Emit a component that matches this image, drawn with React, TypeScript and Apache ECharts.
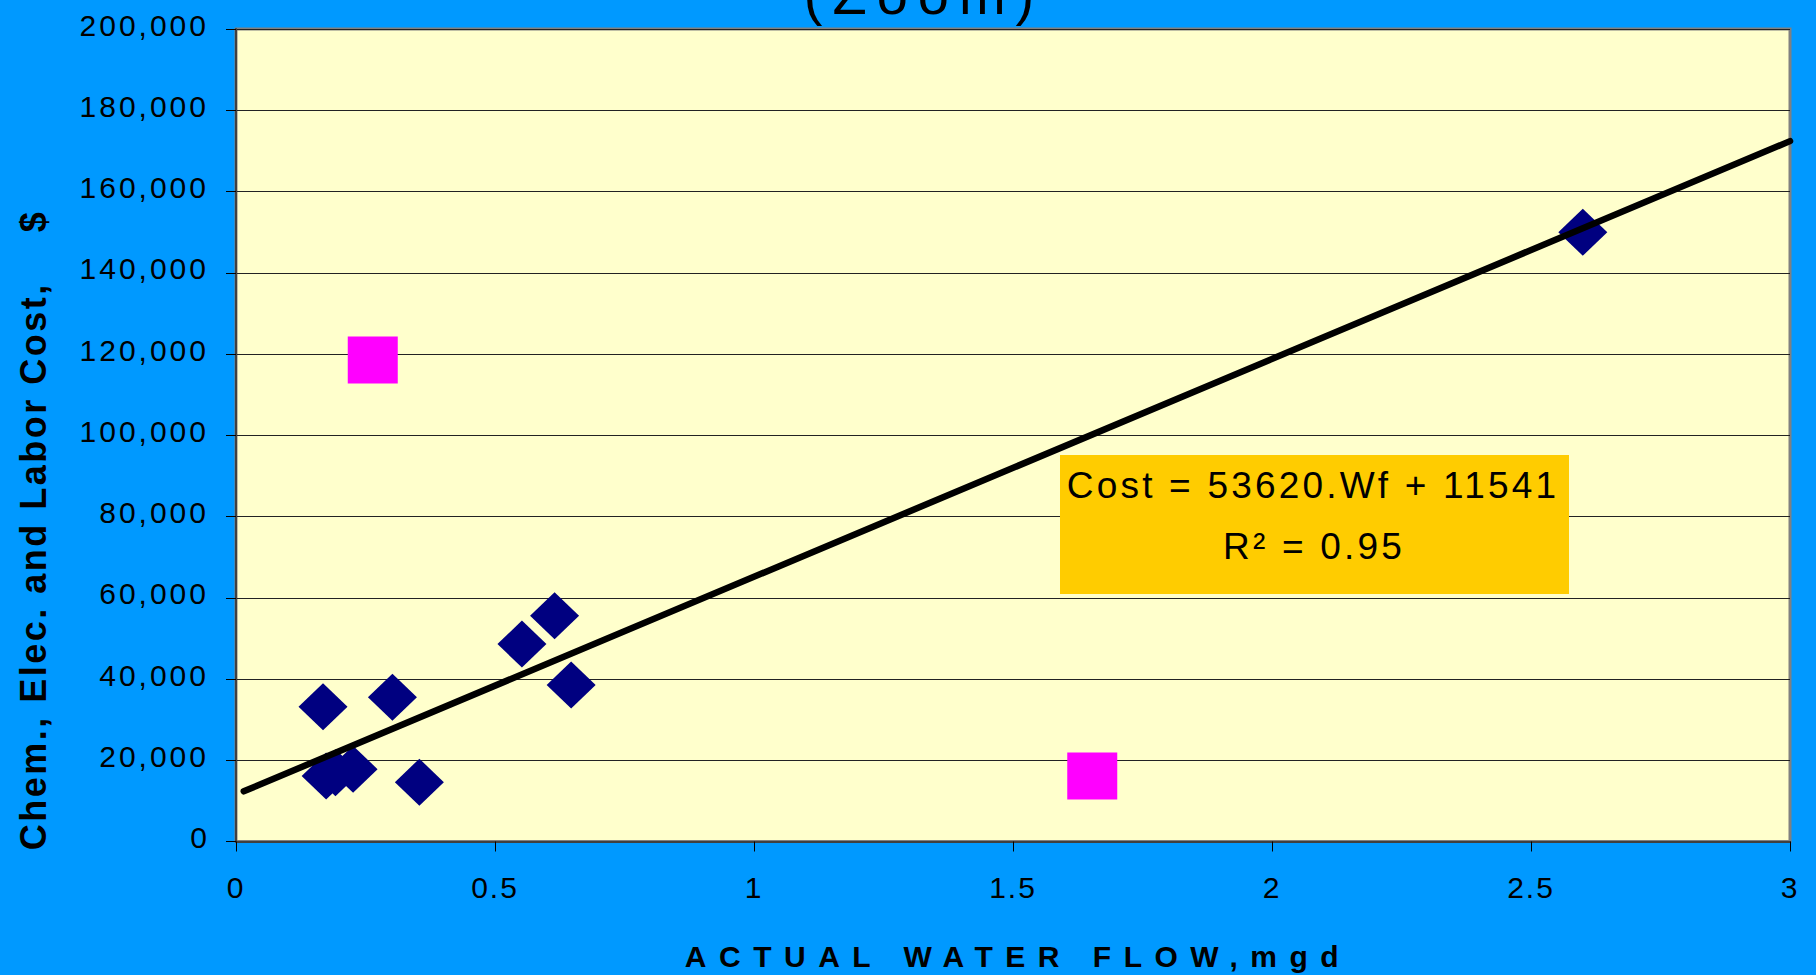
import React, { useEffect, useRef } from 'react';
import * as echarts from 'echarts';

const FONT = '"Liberation Sans", Arial, Helvetica, sans-serif';

const TITLE_TEXT = '(Zoom)';
const X_AXIS_TITLE = 'ACTUAL WATER FLOW,mgd';
const Y_AXIS_TITLE = 'Chem., Elec. and Labor Cost,    $';
const EQUATION_LINE1 = 'Cost = 53620.Wf + 11541';
const EQUATION_LINE2 = 'R\u00B2 = 0.95';

const X_TICKS = [0, 0.5, 1, 1.5, 2, 2.5, 3];
const Y_TICKS = [0, 20000, 40000, 60000, 80000, 100000, 120000, 140000, 160000, 180000, 200000];

// Plants used in the regression (navy diamonds)
const plantFlow = [0.168, 0.302, 0.552, 0.615, 0.647, 0.354, 0.174, 0.192, 0.226, 2.6];
const plantCost = [33200, 35500, 48600, 55600, 38500, 14600, 16100, 16900, 17800, 150000];

// Outlier plants (magenta squares)
const outlierFlow = [0.264, 1.653];
const outlierCost = [118500, 16100];

// Linear trend: Cost = 53620 * Wf + 11541
const TREND_SLOPE = 53620;
const TREND_INTERCEPT = 11541;
const trendFlow = [0.015, 3.0];

const pair = (xs: number[], ys: number[]) => xs.map((x, i) => [x, ys[i]]);

const SPACING: Record<string, number> = {
  [TITLE_TEXT]: 10,
  [X_AXIS_TITLE]: 12.5,
  [Y_AXIS_TITLE]: 2.5,
  [EQUATION_LINE1]: 3.2,
  [EQUATION_LINE2]: 3.2,
};

function applySpacing(root: HTMLElement) {
  root.querySelectorAll('text').forEach((t) => {
    const s = t.textContent || '';
    let ls = 0;
    if (SPACING[s] !== undefined) ls = SPACING[s];
    else if (/^[\d,]+$/.test(s) && s.length > 3) ls = 3;
    else if (/^[\d.,]+$/.test(s)) ls = 2;
    if (ls) {
      t.setAttribute('letter-spacing', ls + 'px');
      (t as SVGTextElement).style.whiteSpace = 'pre';
    }
  });
}

function buildOption() {
  const yMin = Y_TICKS[0];
  const yMax = Y_TICKS[Y_TICKS.length - 1];
  const yInt = Y_TICKS[1] - Y_TICKS[0];
  const xMin = X_TICKS[0];
  const xMax = X_TICKS[X_TICKS.length - 1];
  const xInt = X_TICKS[1] - X_TICKS[0];

  return {
    animation: false,
    backgroundColor: '#0099FF',
    textStyle: { fontFamily: FONT },
    grid: {
      left: 236,
      right: 26,
      top: 29,
      bottom: 133.5,
      show: true,
      backgroundColor: '#FFFFCC',
      borderColor: '#808080',
      borderWidth: 3,
    },
    xAxis: {
      type: 'value',
      min: xMin,
      max: xMax,
      interval: xInt,
      axisLine: { show: true, lineStyle: { color: '#404040', width: 2 } },
      axisTick: { show: true, inside: false, length: 10, lineStyle: { color: '#000', width: 1 } },
      axisLabel: { fontSize: 30, color: '#000', fontFamily: FONT, margin: 31 },
      splitLine: { show: false },
    },
    yAxis: {
      type: 'value',
      min: yMin,
      max: yMax,
      interval: yInt,
      axisLine: { show: true, lineStyle: { color: '#404040', width: 2 } },
      axisTick: { show: true, inside: false, length: 10, lineStyle: { color: '#000', width: 1 } },
      axisLabel: {
        fontSize: 30,
        color: '#000',
        fontFamily: FONT,
        margin: 27,
        verticalAlign: 'bottom',
        lineHeight: 8,
        formatter: (v: number) => v.toLocaleString('en-US'),
      },
      splitLine: { show: true, lineStyle: { color: '#222', width: 1 } },
    },
    series: [
      {
        name: 'Plants',
        type: 'scatter',
        symbol: 'diamond',
        symbolSize: [49, 47],
        itemStyle: { color: '#000080', opacity: 1 },
        data: pair(plantFlow, plantCost),
        z: 2,
      },
      {
        name: 'Outliers',
        type: 'scatter',
        symbol: 'rect',
        symbolSize: [50, 47],
        itemStyle: { color: '#FF00FF', opacity: 1 },
        data: pair(outlierFlow, outlierCost),
        z: 2,
      },
      {
        name: 'Trend',
        type: 'line',
        showSymbol: false,
        symbol: 'none',
        clip: false,
        lineStyle: { color: '#000', width: 6.5, cap: 'round' },
        data: trendFlow.map((x) => [x, TREND_SLOPE * x + TREND_INTERCEPT]),
        z: 3,
      },
    ],
    graphic: [
      {
        type: 'text',
        x: 924,
        y: -6,
        z: 10,
        style: {
          text: TITLE_TEXT,
          fontSize: 56,
          fontFamily: FONT,
          fill: '#000',
          align: 'center',
          verticalAlign: 'middle',
        },
      },
      {
        type: 'rect',
        z: 10,
        shape: { x: 1060, y: 455, width: 509, height: 139 },
        style: { fill: '#FFCC00' },
      },
      {
        type: 'text',
        x: 1313,
        y: 485,
        z: 11,
        style: {
          text: EQUATION_LINE1,
          fontSize: 37,
          fontFamily: FONT,
          fill: '#000',
          align: 'center',
          verticalAlign: 'middle',
        },
      },
      {
        type: 'text',
        x: 1314,
        y: 546,
        z: 11,
        style: {
          text: EQUATION_LINE2,
          fontSize: 37,
          fontFamily: FONT,
          fill: '#000',
          align: 'center',
          verticalAlign: 'middle',
        },
      },
      {
        type: 'text',
        x: 1018,
        y: 956,
        z: 10,
        style: {
          text: X_AXIS_TITLE,
          fontSize: 30,
          fontWeight: 'bold',
          fontFamily: FONT,
          fill: '#000',
          align: 'center',
          verticalAlign: 'middle',
        },
      },
      {
        type: 'text',
        x: 33,
        y: 530,
        rotation: Math.PI / 2,
        z: 10,
        style: {
          text: Y_AXIS_TITLE,
          fontSize: 36,
          fontWeight: 'bold',
          fontFamily: FONT,
          fill: '#000',
          align: 'center',
          verticalAlign: 'middle',
        },
      },
    ],
  };
}

export default function App() {
  const ref = useRef<HTMLDivElement>(null);
  useEffect(() => {
    document.body.style.margin = '0';
    const el = ref.current!;
    const chart = echarts.init(el, null, { renderer: 'svg' });
    chart.setOption(buildOption() as any);
    const apply = () => applySpacing(el);
    apply();
    chart.on('finished', apply);
    const t = setTimeout(apply, 100);
    return () => {
      clearTimeout(t);
      chart.dispose();
    };
  }, []);
  return (
    <div
      ref={ref}
      style={{ position: 'absolute', left: 0, top: 0, width: 1816, height: 975, background: '#0099FF' }}
    />
  );
}
